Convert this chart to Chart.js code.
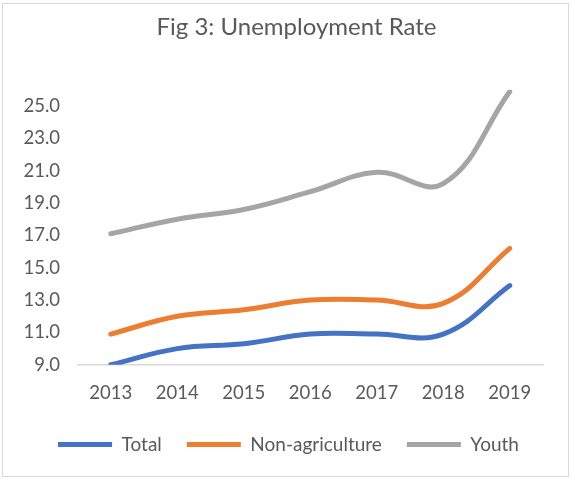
<!DOCTYPE html>
<html>
<head>
<meta charset="utf-8">
<script src="https://cdn.jsdelivr.net/npm/chart.js@4/dist/chart.umd.min.js"></script>
<style>
    html, body { margin: 0; padding: 0; background: #fff; overflow: hidden; }
    #wrap { position: absolute; left: 0; top: 0; width: 572px; height: 479px; }
    #frame {
        position: absolute; left: 2px; top: 3px;
        width: 567px; height: 474px;
        border: 1px solid #d9d9d9; box-sizing: border-box;
        pointer-events: none;
    }
</style>
</head>
<body>
<div id="wrap"><canvas id="unemploymentChart"></canvas></div>
<div id="frame"></div>
<script>
// Chart data
const years = ['2013', '2014', '2015', '2016', '2017', '2018', '2019'];
const totalRate = [9.0, 10.0, 10.3, 10.9, 10.9, 10.9, 13.9];
const nonAgriRate = [10.9, 12.0, 12.4, 13.0, 13.0, 12.8, 16.2];
const youthRate = [17.1, 18.0, 18.6, 19.7, 20.9, 20.2, 25.9];
const yTicks = [9, 11, 13, 15, 17, 19, 21, 23, 25];

const textColor = '#595959';
const fontFamily = 'Lato, "Open Sans", sans-serif';

function lineSet(label, data, color) {
    return {
        label: label,
        data: data,
        borderColor: color,
        backgroundColor: color,
        borderWidth: 5,
        borderCapStyle: 'round',
        borderJoinStyle: 'round',
        pointRadius: 0,
        pointHoverRadius: 0,
        tension: 0.4,
        fill: false
    };
}

// Excel puts title and legend a little right of the canvas centre
const nudgeBoxes = {
    id: 'nudgeBoxes',
    afterLayout(chart) {
        if (chart.titleBlock) {
            chart.titleBlock.left += 18;
            chart.titleBlock.right += 18;
        }
        if (chart.legend) {
            chart.legend.left += 10;
            chart.legend.right += 10;
        }
    }
};

const ctx = document.getElementById('unemploymentChart').getContext('2d');
const chart = new Chart(ctx, {
    type: 'line',
    data: {
        labels: years,
        datasets: [
            lineSet('Total', totalRate, '#4472c4'),
            lineSet('Non-agriculture', nonAgriRate, '#ed7d31'),
            lineSet('Youth', youthRate, '#a5a5a5')
        ]
    },
    options: {
        responsive: true,
        maintainAspectRatio: false,
        animation: false,
        layout: { padding: { left: 14, right: 29, top: 0, bottom: 15 } },
        plugins: {
            title: {
                display: true,
                text: 'Fig 3: Unemployment Rate',
                color: textColor,
                font: { family: fontFamily, size: 24, weight: 'normal' },
                padding: { top: 13, bottom: 48 }
            },
            legend: {
                display: true,
                position: 'bottom',
                labels: {
                    color: textColor,
                    font: { family: fontFamily, size: 19 },
                    usePointStyle: true,
                    pointStyle: 'line',
                    pointStyleWidth: 54,
                    padding: 25
                }
            },
            tooltip: { enabled: false }
        },
        scales: {
            y: {
                min: 9,
                max: 26,
                afterBuildTicks: axis => {
                    axis.ticks = yTicks.map(v => ({ value: v }));
                },
                ticks: {
                    color: textColor,
                    font: { family: fontFamily, size: 18.5 },
                    padding: 9.5,
                    callback: v => Number(v).toFixed(1)
                },
                grid: { display: false },
                border: { display: false }
            },
            x: {
                offset: true,
                afterFit: axis => { axis.height -= 3; },
                ticks: {
                    color: textColor,
                    font: { family: fontFamily, size: 18.5 },
                    padding: 9
                },
                grid: { display: false },
                border: { display: true, color: '#d9d9d9', width: 1.5 }
            }
        }
    },
    plugins: [nudgeBoxes]
});
</script>
</body>
</html>
